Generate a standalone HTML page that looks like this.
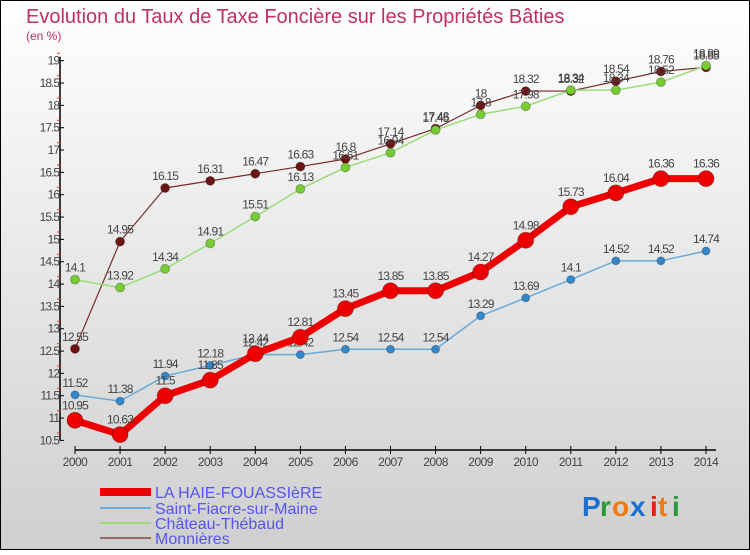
<!DOCTYPE html>
<html><head><meta charset="utf-8">
<style>
html,body{margin:0;padding:0;}
body{width:750px;height:550px;overflow:hidden;font-family:"Liberation Sans",sans-serif;}
</style></head>
<body>
<svg id="chart" width="750" height="550" xmlns="http://www.w3.org/2000/svg">
<defs>
<linearGradient id="bg" x1="0" y1="0" x2="0" y2="1">
<stop offset="0" stop-color="#ffffff"/><stop offset="1" stop-color="#cfcfcf"/>
</linearGradient>
</defs>
<rect x="0.5" y="0.5" width="749" height="549" fill="url(#bg)" stroke="#000" stroke-width="1"/>
<text x="26" y="23" font-size="20" fill="#c0305e">Evolution du Taux de Taxe Foncière sur les Propriétés Bâties</text>
<text x="26" y="40" font-size="12" fill="#c0305e">(en %)</text>
<g id="axes"></g>
<g id="series"></g>
<g id="legend">
<line x1="100" y1="492" x2="151" y2="492" stroke="#ee0000" stroke-width="8"/>
<text x="155" y="498" font-size="16" fill="#5555ee">LA HAIE-FOUASSIèRE</text>
<line x1="100" y1="508" x2="151" y2="508" stroke="#6aaad8" stroke-width="2"/>
<text x="155" y="514" font-size="16" fill="#5555ee">Saint-Fiacre-sur-Maine</text>
<line x1="100" y1="523" x2="151" y2="523" stroke="#99dd77" stroke-width="2"/>
<text x="155" y="529" font-size="16" fill="#5555ee">Château-Thébaud</text>
<line x1="100" y1="538" x2="151" y2="538" stroke="#996666" stroke-width="2"/>
<text x="155" y="544" font-size="16" fill="#5555ee">Monnières</text>
</g>
<g font-size="28" font-weight="bold">
<text x="582" y="516" fill="#1a6fcf">P</text><text x="600" y="516" fill="#2a9a3a">r</text><text x="612" y="516" fill="#f07b10">o</text><text x="630" y="516" fill="#1a6fcf">x</text><text x="650" y="516" fill="#e02010">i</text><text x="658" y="516" fill="#f07b10">t</text><text x="672" y="516" fill="#2a9a3a">i</text>
</g>
</svg>
<script>
const years = [2000,2001,2002,2003,2004,2005,2006,2007,2008,2009,2010,2011,2012,2013,2014];
const yTicks = [10.5,11,11.5,12,12.5,13,13.5,14,14.5,15,15.5,16,16.5,17,17.5,18,18.5,19];
const laHaie = [10.95,10.63,11.5,11.85,12.44,12.81,13.45,13.85,13.85,14.27,14.98,15.73,16.04,16.36,16.36];
const saintFiacre = [11.52,11.38,11.94,12.18,12.42,12.42,12.54,12.54,12.54,13.29,13.69,14.1,14.52,14.52,14.74];
const chateau = [14.1,13.92,14.34,14.91,15.51,16.13,16.61,16.94,17.45,17.8,17.98,18.34,18.34,18.52,18.89];
const monnieres = [12.55,14.95,16.15,16.31,16.47,16.63,16.8,17.14,17.48,18,18.32,18.32,18.54,18.76,18.85];

const NS="http://www.w3.org/2000/svg";
const x0=75, x1=706, yTop=60.7, yBot=440.4, yMin=10.5, yMax=19;
function xs(i){return x0+(x1-x0)*i/(years.length-1);}
function ys(v){return yBot-(v-yMin)/(yMax-yMin)*(yBot-yTop);}
function mk(tag,attrs,parent){const e=document.createElementNS(NS,tag);for(const k in attrs)e.setAttribute(k,attrs[k]);parent.appendChild(e);return e;}
const axes=document.getElementById('axes');
const ya=mk('line',{x1:60,y1:yTop-4,x2:60,y2:yBot,stroke:'#000','stroke-width':1.5},axes);


yTicks.forEach(v=>{
  const y=ys(v);
  mk('line',{x1:60,y1:y,x2:64,y2:y,stroke:'#000'},axes);
  mk('line',{x1:57,y1:y-7.4,x2:60,y2:y-7.4,stroke:'#e33'},axes);
  const t=mk('text',{x:59,y:y+4,'text-anchor':'end','font-size':12,fill:'#444','letter-spacing':'-1'},axes);
  t.textContent=String(v);
  
  
});
const xa=mk('line',{x1:x0,y1:450,x2:x1+10,y2:450,stroke:'#000','stroke-width':1.5},axes);


years.forEach((yr,i)=>{
  const x=xs(i);
  mk('line',{x1:x,y1:446,x2:x,y2:454,stroke:'#000'},axes);
  const t=mk('text',{x:x,y:466,'text-anchor':'middle','font-size':12,fill:'#444','letter-spacing':'-0.5'},axes);
  t.textContent=String(yr);
  
  
});
const g=document.getElementById('series');
function drawSeries(vals,color,w,r,dot,name){
  const grp=mk('g',{},g);
  
  
  mk('polyline',{points:vals.map((v,i)=>xs(i)+','+ys(v)).join(' '),fill:'none',stroke:color,'stroke-width':w,'stroke-linejoin':'round'},grp);
  vals.forEach((v,i)=>{
    const c=mk('circle',{cx:xs(i),cy:ys(v),r:r,fill:dot,stroke:'rgba(0,0,0,0.25)'},grp);
    
    
    const t=mk('text',{x:xs(i),y:ys(v)-8-(r>5?3:0),'text-anchor':'middle','font-size':12,fill:'#444','letter-spacing':'-0.8'},grp);
    t.textContent=String(v);
    
    
  });
}
drawSeries(monnieres,'#7a2a2a',1.2,4.5,'#6b1515','monnieres-series');
drawSeries(chateau,'#99dd77',1.5,4.5,'#77cc33','chateau-thebaud-series');
drawSeries(saintFiacre,'#6aaad8',1.5,4,'#3388cc','saint-fiacre-series');
drawSeries(laHaie,'#ee0000',7,8,'#ee0000','la-haie-series');
</script>
</body></html>
